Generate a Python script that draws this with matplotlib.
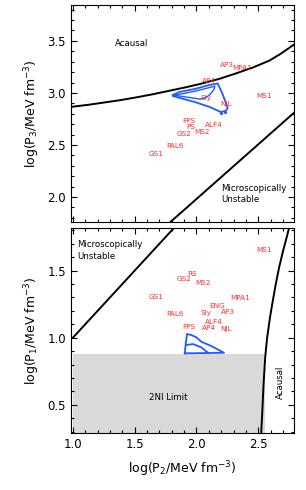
import matplotlib
matplotlib.use("Agg")
import matplotlib.pyplot as plt
from matplotlib.ticker import MultipleLocator

plt.rcParams['font.family'] = ['DejaVu Sans']

# ---------------- data ----------------
# top panel: log P3 vs log P2
eos_top = ["AP3", "MPA1", "AP4", "Sly", "NJL", "MS1", "FPS", "PS", "ALF4", "GS2", "MS2", "PAL6", "GS1"]
p2_top = [2.245, 2.37, 2.10, 2.075, 2.236, 2.55, 1.935, 1.954, 2.137, 1.90, 2.048, 1.827, 1.674]
p3_top = [3.265, 3.235, 3.115, 2.95, 2.89, 2.97, 2.73, 2.676, 2.69, 2.61, 2.62, 2.49, 2.41]

causal_top_p2 = [1.0, 1.125, 1.247, 1.38, 1.516, 1.65, 1.785, 1.92, 2.053, 2.19, 2.323, 2.46, 2.591, 2.68, 2.774, 2.79]
causal_top_p3 = [2.868, 2.886, 2.907, 2.930, 2.958, 2.988, 3.022, 3.056, 3.093, 3.137, 3.189, 3.246, 3.311, 3.375, 3.452, 3.465]
unstable_top_p2 = [1.79, 2.79]
unstable_top_p3 = [1.76, 2.81]

contour_top_outer_p2 = [1.809, 1.865, 1.986, 2.107, 2.172, 2.204, 2.236, 2.253, 2.236, 2.196, 2.107, 1.986, 1.865, 1.809]
contour_top_outer_p3 = [2.981, 3.010, 3.038, 3.077, 3.091, 3.010, 2.913, 2.856, 2.827, 2.817, 2.865, 2.913, 2.952, 2.971]
contour_top_inner_p2 = [1.815, 1.90, 2.00, 2.10, 2.15, 2.14, 2.12, 2.10, 2.07, 2.03, 1.95, 1.815]
contour_top_inner_p3 = [2.978, 2.995, 3.02, 3.05, 3.065, 3.03, 3.0, 2.975, 2.955, 2.94, 2.955, 2.978]
dots_top_p2 = [2.20, 2.23]
dots_top_p3 = [2.81, 2.82]

# bottom panel: log P1 vs log P2
eos_bot = ["MS1", "RS", "GS2", "MS2", "GS1", "MPA1", "ENG", "AP3", "PAL6", "Sly", "ALF4", "FPS", "AP4", "NJL"]
p2_bot = [2.55, 1.962, 1.902, 2.05, 1.674, 2.355, 2.17, 2.258, 1.83, 2.073, 2.142, 1.935, 2.10, 2.24]
p1_bot = [1.655, 1.475, 1.435, 1.41, 1.30, 1.294, 1.237, 1.194, 1.18, 1.184, 1.117, 1.082, 1.07, 1.065]

unstable_bot_p2 = [1.0, 1.82]
unstable_bot_p1 = [1.0, 1.82]
causal_bot_p2 = [2.524, 2.533, 2.543, 2.556, 2.572, 2.595, 2.615, 2.640, 2.668, 2.699, 2.725, 2.750]
causal_bot_p1 = [0.29, 0.45, 0.65, 0.85, 1.00, 1.15, 1.26, 1.39, 1.52, 1.64, 1.73, 1.82]

limit_p2 = [1.0, 2.556]
limit_p1 = [0.29, 0.88]

contour_bot_outer_p2 = [1.906, 1.914, 1.924, 1.96, 2.0, 2.040, 2.121, 2.223, 1.906]
contour_bot_outer_p1 = [0.884, 0.96, 1.028, 1.02, 1.003, 0.970, 0.938, 0.888, 0.884]
contour_bot_inner_p2 = [1.919, 1.973, 2.040, 2.094]
contour_bot_inner_p1 = [0.946, 0.953, 0.928, 0.888]

RED = "#ff2a2a"
BLUE = "#1f5cff"

fig = plt.figure(figsize=(3.06, 4.90), dpi=100)
ax1 = fig.add_axes([0.232, 0.547, 0.729, 0.443])
ax2 = fig.add_axes([0.232, 0.116, 0.729, 0.419])

def style(ax):
    ax.xaxis.set_major_locator(MultipleLocator(0.5))
    ax.xaxis.set_minor_locator(MultipleLocator(0.1))
    ax.yaxis.set_major_locator(MultipleLocator(0.5))
    ax.yaxis.set_minor_locator(MultipleLocator(0.1))
    ax.tick_params(which='both', direction='in', top=True, right=True, labelsize=8.5)
    ax.tick_params(which='major', length=4, width=0.8)
    ax.tick_params(which='minor', length=2.2, width=0.8)
    ax.set_xlim(0.985, 2.79)

# ---- top ----
style(ax1)
ax1.set_ylim(1.76, 3.846)
ax1.plot(causal_top_p2, causal_top_p3, color='black', lw=1.4)
ax1.plot(unstable_top_p2, unstable_top_p3, color='black', lw=1.4)
ax1.plot(contour_top_outer_p2, contour_top_outer_p3, color=BLUE, lw=1.3)
ax1.plot(contour_top_inner_p2, contour_top_inner_p3, color=BLUE, lw=1.0)
ax1.plot(dots_top_p2, dots_top_p3, 'o', color=BLUE, ms=1.3)
for n, x, y in zip(eos_top, p2_top, p3_top):
    ax1.text(x, y, n, color=RED, fontsize=5.2, ha='center', va='center')
ax1.text(1.476, 3.478, "Acausal", fontsize=6.2, ha='center', va='center')
ax1.text(2.20, 2.03, "Microscopically\nUnstable", fontsize=6.2, ha='left', va='center', linespacing=1.35)
ax1.set_xticklabels([])
ax1.set_ylabel(r"log(P$_3$/MeV fm$^{-3}$)", fontsize=9, labelpad=4)

# ---- bottom ----
style(ax2)
ax2.set_ylim(0.289, 1.819)
ax2.fill_between(limit_p2, limit_p1[0], limit_p1[1], color='#d9d9d9', lw=0)
ax2.plot(unstable_bot_p2, unstable_bot_p1, color='black', lw=1.4)
ax2.plot(causal_bot_p2, causal_bot_p1, color='black', lw=1.4)
ax2.plot(contour_bot_outer_p2, contour_bot_outer_p1, color=BLUE, lw=1.3)
ax2.plot(contour_bot_inner_p2, contour_bot_inner_p1, color=BLUE, lw=1.3)
for n, x, y in zip(eos_bot, p2_bot, p1_bot):
    ax2.text(x, y, n, color=RED, fontsize=5.2, ha='center', va='center')
ax2.text(1.037, 1.65, "Microscopically\nUnstable", fontsize=6.2, ha='left', va='center', linespacing=1.35)
ax2.text(1.77, 0.552, "2NI Limit", fontsize=6.2, ha='center', va='center')
ax2.text(2.68, 0.67, "Acausal", fontsize=6.2, ha='center', va='center', rotation=90)
ax2.set_ylabel(r"log(P$_1$/MeV fm$^{-3}$)", fontsize=9, labelpad=4)
ax2.set_xlabel(r"log(P$_2$/MeV fm$^{-3}$)", fontsize=9, labelpad=6)

fig.savefig("out.png", dpi=100)
